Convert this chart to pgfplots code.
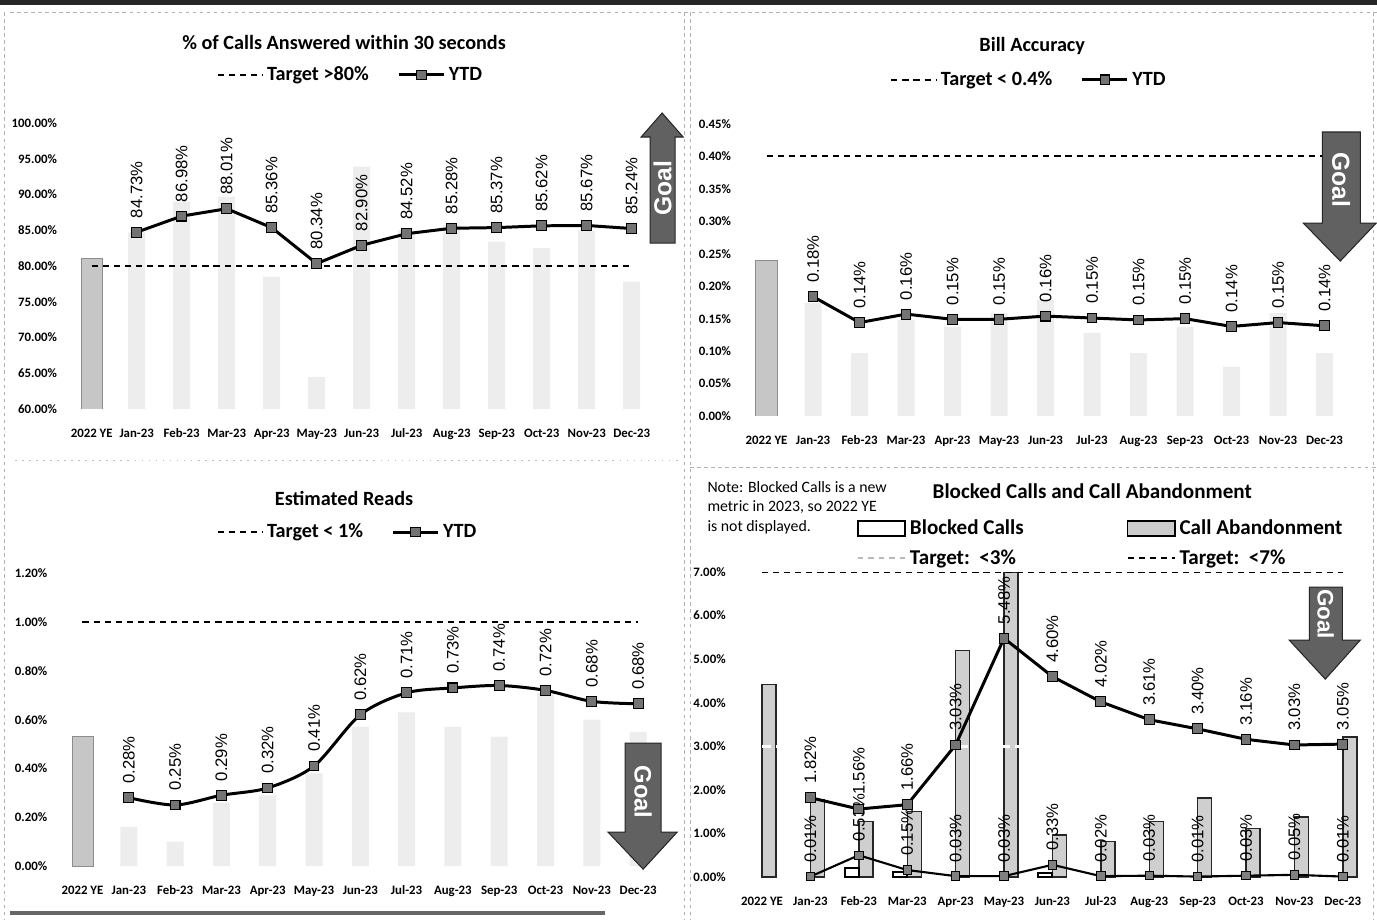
\documentclass[border=0pt]{standalone}
\usepackage{fontspec}
\setmainfont{Carlito}
\newfontfamily\arialfont{Liberation Sans}
\usepackage{pgfplots}
\pgfplotsset{compat=1.18}

\pgfplotsset{
 panel/.style={
   scale only axis, clip=true,
   axis lines*=left, axis line style={draw=none},
   major tick length=0pt, tick style={draw=none},
   xmin=-0.5, xmax=12.5, xtick={0,...,12},
   xticklabels={2022 YE,Jan-23,Feb-23,Mar-23,Apr-23,May-23,Jun-23,Jul-23,Aug-23,Sep-23,Oct-23,Nov-23,Dec-23},
   ticklabel style={font=\fontsize{7.3}{8}\selectfont\bfseries},
   x tick label style={yshift=-0.17cm, text height=1.6ex, text depth=0.3ex},
   y tick label style={xshift=-0.12cm},
   /pgf/number format/assume math mode=true,
   legend columns=2,
   legend style={draw=none, fill=none, font=\fontsize{11.5}{13}\selectfont\bfseries,
     /tikz/every even column/.append style={column sep=0.5cm}},
   legend image code/.code={\draw[mark repeat=2,mark phase=2,##1] plot coordinates {(0cm,0cm) (0.45cm,0cm) (0.9cm,0cm)};},
   every node near coord/.append style={rotate=90, anchor=west, font=\arialfont\fontsize{9.5}{10}\selectfont, inner sep=0pt, outer xsep=8pt, text=black},
 },
 ytd/.style={black, line width=1.7pt, mark=square*, mark size=2.8pt, mark options={fill=black!55, draw=black, line width=0.6pt, solid}},
 tgt/.style={black, line width=1.1pt, dash pattern=on 3.5pt off 2.8pt},
 ghost/.style={ybar, bar width=0.34cm, bar shift=0pt, fill=gray!14, draw=none, forget plot},
 ye/.style={ybar, bar width=0.42cm, bar shift=0pt, fill=gray!45, draw=black!45, forget plot},
}

\begin{document}
\begin{tikzpicture}
\useasboundingbox (0,0) rectangle (27.54cm,18.38cm);

% ---------- Panel 1 ----------
\begin{axis}[panel, at={(1.384cm,10.20cm)}, anchor=south west, width=11.70cm, height=5.72cm,
  ymin=60, ymax=100, ytick={60,65,70,75,80,85,90,95,100},
  yticklabels={60.00\%,65.00\%,70.00\%,75.00\%,80.00\%,85.00\%,90.00\%,95.00\%,100.00\%},
  legend style={at={(0.482,1.168)}, anchor=center}]
\addlegendimage{tgt}\addlegendentry{Target >80\%}
\addlegendimage{ytd}\addlegendentry{YTD}
\addplot[ghost] coordinates {(1,84.7) (2,89.0) (3,89.7) (4,78.5) (5,64.5) (6,93.9) (7,85.0) (8,85.7) (9,83.4) (10,82.5) (11,85.0) (12,77.8)};
\addplot[ye] coordinates {(0,81.1)};
\addplot[tgt, forget plot] coordinates {(0,80) (12,80)};
\addplot[ytd, forget plot, nodes near coords, point meta=explicit symbolic] coordinates {
 (1,84.73)[84.73\%] (2,86.98)[86.98\%] (3,88.01)[88.01\%] (4,85.36)[85.36\%]
 (5,80.34)[80.34\%] (6,82.90)[82.90\%] (7,84.52)[84.52\%] (8,85.28)[85.28\%]
 (9,85.37)[85.37\%] (10,85.62)[85.62\%] (11,85.67)[85.67\%] (12,85.24)[85.24\%]};
\end{axis}

% ---------- Panel 2 ----------
\begin{axis}[panel, at={(14.865cm,10.06cm)}, anchor=south west, width=12.09cm, height=5.84cm,
  ymin=0, ymax=0.45, ytick={0,0.05,0.1,0.15,0.2,0.25,0.3,0.35,0.4,0.45},
  yticklabels={0.00\%,0.05\%,0.10\%,0.15\%,0.20\%,0.25\%,0.30\%,0.35\%,0.40\%,0.45\%},
  legend style={at={(0.474,1.151)}, anchor=center}]
\addlegendimage{tgt}\addlegendentry{Target < 0.4\%}
\addlegendimage{ytd}\addlegendentry{YTD}
\addplot[ghost] coordinates {(1,0.174) (2,0.097) (3,0.148) (4,0.137) (5,0.159) (6,0.179) (7,0.128) (8,0.097) (9,0.137) (10,0.076) (11,0.159) (12,0.097)};
\addplot[ye, bar width=0.44cm] coordinates {(0,0.240)};
\addplot[tgt, forget plot] coordinates {(0,0.40) (12,0.40)};
\addplot[ytd, forget plot, nodes near coords, point meta=explicit symbolic] coordinates {
 (1,0.184)[0.18\%] (2,0.144)[0.14\%] (3,0.157)[0.16\%] (4,0.149)[0.15\%]
 (5,0.149)[0.15\%] (6,0.154)[0.16\%] (7,0.151)[0.15\%] (8,0.148)[0.15\%]
 (9,0.150)[0.15\%] (10,0.138)[0.14\%] (11,0.144)[0.15\%] (12,0.139)[0.14\%]};
\end{axis}

% ---------- Panel 3 ----------
\begin{axis}[panel, at={(1.187cm,1.06cm)}, anchor=south west, width=12.038cm, height=5.854cm,
  ymin=0, ymax=1.2, ytick={0,0.2,0.4,0.6,0.8,1.0,1.2},
  yticklabels={0.00\%,0.20\%,0.40\%,0.60\%,0.80\%,1.00\%,1.20\%},
  legend style={at={(0.48,1.141)}, anchor=center}]
\addlegendimage{tgt}\addlegendentry{Target < 1\%}
\addlegendimage{ytd}\addlegendentry{YTD}
\addplot[ghost] coordinates {(1,0.16) (2,0.10) (3,0.26) (4,0.29) (5,0.38) (6,0.57) (7,0.63) (8,0.57) (9,0.53) (10,0.71) (11,0.60) (12,0.55)};
\addplot[ye] coordinates {(0,0.53)};
\addplot[tgt, forget plot] coordinates {(0,1.0) (12,1.0)};
\addplot[ytd, smooth, tension=0.5, forget plot, nodes near coords, point meta=explicit symbolic] coordinates {
 (1,0.28)[0.28\%] (2,0.25)[0.25\%] (3,0.29)[0.29\%] (4,0.32)[0.32\%]
 (5,0.41)[0.41\%] (6,0.62)[0.62\%] (7,0.71)[0.71\%] (8,0.73)[0.73\%]
 (9,0.74)[0.74\%] (10,0.72)[0.72\%] (11,0.675)[0.68\%] (12,0.665)[0.68\%]};
\end{axis}

% ---------- Panel 4 ----------
\begin{axis}[panel, at={(14.756cm,0.84cm)}, anchor=south west, width=12.584cm, height=6.10cm,
  ymin=0, ymax=7, ytick={0,1,2,3,4,5,6,7},
  yticklabels={0.00\%,1.00\%,2.00\%,3.00\%,4.00\%,5.00\%,6.00\%,7.00\%},
  legend columns=1, legend cell align=left,
  legend style={at={(0.18,1.195)}, anchor=north west, font=\fontsize{12}{14}\selectfont\bfseries, row sep=3pt}]
\addlegendimage{legend image code/.code={\draw[fill=white,draw=black,line width=1.3pt] (0cm,-0.15cm) rectangle (0.95cm,0.15cm);}}
\addlegendentry{Blocked Calls}
\addlegendimage{legend image code/.code={\draw[gray!55, line width=1.1pt, dash pattern=on 3pt off 3pt] (0cm,0cm) -- (0.95cm,0cm);}}
\addlegendentry{Target:\ \ <3\%}
\addplot[ybar, bar width=0.28cm, bar shift=0.14cm, fill=gray!38, draw=black!85, line width=0.8pt, forget plot]
 coordinates {(0,4.42) (1,1.78) (2,1.27) (3,1.50) (4,5.20) (5,7.00) (6,0.96) (7,0.81) (8,1.27) (9,1.81) (10,1.12) (11,1.38) (12,3.21)};
\addplot[ybar, bar width=0.28cm, bar shift=-0.14cm, fill=white, draw=black, line width=1.1pt, forget plot]
 coordinates {(2,0.21) (3,0.12) (6,0.09)};
\addplot[white, line width=1.6pt, dash pattern=on 5pt off 3pt, forget plot] coordinates {(0,3) (12,3)};
\addplot[tgt, forget plot] coordinates {(0,7) (12,7)};
\addplot[black, line width=1.2pt, mark=square*, mark size=2.4pt, mark options={fill=black!50, draw=black, line width=0.5pt, solid}, forget plot, nodes near coords, point meta=explicit symbolic] coordinates {
 (1,0.01)[0.01\%] (2,0.50)[0.53\%] (3,0.16)[0.15\%] (4,0.02)[0.03\%]
 (5,0.02)[0.03\%] (6,0.28)[0.33\%] (7,0.02)[0.02\%] (8,0.03)[0.03\%]
 (9,0.01)[0.01\%] (10,0.03)[0.03\%] (11,0.05)[0.05\%] (12,0.01)[0.01\%]};
\addplot[ytd, forget plot, nodes near coords, point meta=explicit symbolic] coordinates {
 (1,1.82)[1.82\%] (2,1.56)[1.56\%] (3,1.66)[1.66\%] (4,3.03)[3.03\%]
 (5,5.48)[5.48\%] (6,4.60)[4.60\%] (7,4.02)[4.02\%] (8,3.61)[3.61\%]
 (9,3.40)[3.40\%] (10,3.16)[3.16\%] (11,3.03)[3.03\%] (12,3.05)[3.05\%]};
\end{axis}
\begin{axis}[at={(14.756cm,0.84cm)}, anchor=south west, scale only axis, width=12.584cm, height=6.10cm,
  hide axis, xmin=0, xmax=1, ymin=0, ymax=1, legend columns=1, legend cell align=left,
  legend style={at={(0.609,1.195)}, anchor=north west, draw=none, fill=none, font=\fontsize{12}{14}\selectfont\bfseries, row sep=3pt}]
\addlegendimage{legend image code/.code={\draw[fill=gray!40,draw=black,line width=1.0pt] (0cm,-0.15cm) rectangle (0.95cm,0.15cm);}}
\addlegendentry{Call Abandonment}
\addlegendimage{legend image code/.code={\draw[black, line width=1.1pt, dash pattern=on 3.5pt off 2.8pt] (0cm,0cm) -- (0.95cm,0cm);}}
\addlegendentry{Target:\ \ <7\%}
\addplot[draw=none, forget plot] coordinates {(0,0)};
\end{axis}

% ---------- decorations in pixel coordinates ----------
\begin{scope}[x=0.02cm, y=-0.02cm, shift={(0cm,18.38cm)}]
\fill[black!85] (0,0) rectangle (1377,5);
\draw[gray!60, line width=0.4pt, dash pattern=on 2pt off 2pt] (10,12) -- (1377,12);
\draw[gray!60, line width=0.4pt, dash pattern=on 2pt off 2pt] (4,12) -- (4,919);
\draw[gray!60, line width=0.4pt, dash pattern=on 2pt off 2pt] (684,12) -- (684,919);
\draw[gray!60, line width=0.4pt, dash pattern=on 2pt off 2pt] (690,12) -- (690,919);
\draw[gray!60, line width=0.4pt, dash pattern=on 2pt off 2pt] (1373,12) -- (1373,919);
\draw[gray!50, line width=0.4pt, dash pattern=on 1pt off 3pt] (15,460) -- (680,460);
\draw[gray!60, line width=0.4pt, dash pattern=on 2pt off 2pt] (690,467) -- (1377,467);
\fill[black!60] (10,911) rectangle (605,915);

\node[font=\fontsize{11.5}{13}\selectfont\bfseries] at (344,42) {\% of Calls Answered within 30 seconds};
\node[font=\fontsize{11.5}{13}\selectfont\bfseries] at (1032,46) {Bill Accuracy};
\node[font=\fontsize{11.5}{13}\selectfont\bfseries] at (344,498) {Estimated Reads};
\node[font=\fontsize{12}{14}\selectfont\bfseries] at (1092,491) {Blocked Calls and Call Abandonment};
\node[anchor=north west, align=left, font=\fontsize{9}{11}\selectfont, inner sep=0pt] at (707,481)
  {Note: Blocked Calls is a new\\metric in 2023, so 2022 YE\\is not displayed.};

% Goal arrows
\filldraw[fill=black!62, draw=black!85, line width=0.6pt] (650,243)--(650,137)--(641,137)--(662,113)--(683,137)--(675,137)--(675,243)--cycle;
\node[rotate=90, text=white, font=\arialfont\bfseries\fontsize{14}{14}\selectfont] at (662.5,188) {Goal};
\filldraw[fill=black!62, draw=black!85, line width=0.6pt] (1322,132)--(1360,132)--(1360,223)--(1376,223)--(1340,261)--(1303,223)--(1322,223)--cycle;
\node[rotate=-90, text=white, font=\arialfont\bfseries\fontsize{14}{14}\selectfont] at (1341,180) {Goal};
\filldraw[fill=black!62, draw=black!85, line width=0.6pt] (625,743)--(661,743)--(661,832)--(677,832)--(643,869)--(608,832)--(625,832)--cycle;
\node[rotate=-90, text=white, font=\arialfont\bfseries\fontsize{13.5}{14}\selectfont] at (643,792) {Goal};
\filldraw[fill=black!62, draw=black!85, line width=0.6pt] (1309,587)--(1342,587)--(1342,640)--(1360,640)--(1325,679)--(1289,640)--(1309,640)--cycle;
\node[rotate=-90, text=white, font=\arialfont\bfseries\fontsize{12.8}{13}\selectfont] at (1325.5,614) {Goal};
\end{scope}
\end{tikzpicture}
\end{document}
